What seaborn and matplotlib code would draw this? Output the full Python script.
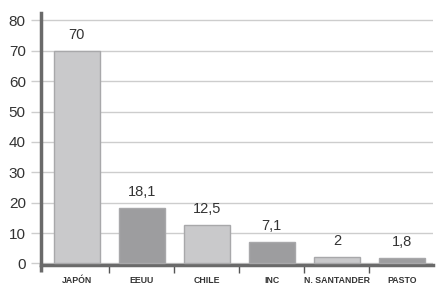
import matplotlib
matplotlib.use("Agg")
import matplotlib.pyplot as plt
import seaborn as sns
import pandas as pd

categorias = ["JAPÓN", "EEUU", "CHILE", "INC", "N. SANTANDER", "PASTO"]
valores = [70, 18.1, 12.5, 7.1, 2, 1.8]
etiquetas = ["70", "18,1", "12,5", "7,1", "2", "1,8"]
colores = ["#c9c9cb", "#9d9d9f", "#c9c9cb", "#9d9d9f", "#c9c9cb", "#9d9d9f"]

df = pd.DataFrame({"cat": categorias, "val": valores})

sns.set_style("white")
plt.rcParams["font.family"] = ["Liberation Sans", "DejaVu Sans"]

fig = plt.figure(figsize=(4.46, 2.97), dpi=100)
ax = fig.add_axes([0.092, 0.108, 0.879, 0.848])

sns.barplot(data=df, x="cat", y="val", hue="cat", palette=colores, legend=False,
            width=0.7, edgecolor="#a8a8aa", linewidth=1, ax=ax, zorder=3)

for i, (v, t) in enumerate(zip(valores, etiquetas)):
    ax.text(i, v + 3, t, ha="center", va="bottom", fontsize=10.5, color="#333333")

ax.set_xlim(-0.55, 5.48)
ax.set_ylim(-0.5, 82.4)
ax.set_yticks(range(0, 81, 10))
ax.yaxis.grid(True, color="#cdcdcd", linewidth=1.0, zorder=0)
ax.set_axisbelow(True)
ax.set_xlabel("")
ax.set_ylabel("")

ax.tick_params(axis="y", length=7, width=1.0, color="#cdcdcd", labelsize=11,
               labelcolor="#333333", pad=4, left=True)
ax.tick_params(axis="x", which="major", length=0, labelsize=6.3, pad=8)
for lbl in ax.get_xticklabels():
    lbl.set_fontweight("bold")
    lbl.set_color("#333333")
ax.set_xticks([0.5, 1.5, 2.5, 3.5, 4.5], minor=True)
ax.tick_params(axis="x", which="minor", length=6, width=1, color="#555555", direction="out", bottom=True)

for s in ["top", "right"]:
    ax.spines[s].set_visible(False)
ax.spines["bottom"].set_color("#6a6a6a")
ax.spines["bottom"].set_linewidth(2.5)
ax.spines["left"].set_color("#6a6a6a")
ax.spines["left"].set_linewidth(2.5)
ax.plot([0, 0], [-0.03, 0], transform=ax.transAxes, color="#6a6a6a",
        linewidth=2.5, clip_on=False, solid_capstyle="butt")

fig.savefig("out.png", dpi=100)
